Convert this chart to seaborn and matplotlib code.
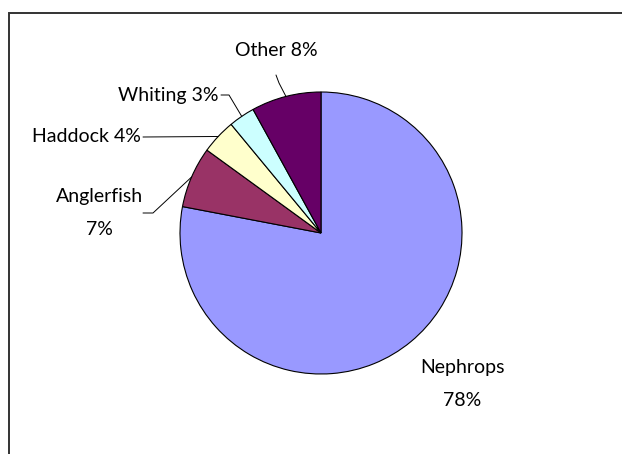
import numpy as np
import matplotlib
matplotlib.use("Agg")
import matplotlib.pyplot as plt
import matplotlib.patches as mpatches
import seaborn as sns

# data
species = ["Nephrops", "Anglerfish", "Haddock", "Whiting", "Other"]
shares = [78, 7, 4, 3, 8]
colours = ["#9999FF", "#993366", "#FFFFCC", "#CCFFFF", "#660066"]

sns.set_theme(style="white")
plt.rcParams["font.family"] = ["Lato", "DejaVu Sans"]

W, H = 622, 454
fig = plt.figure(figsize=(W / 100, H / 100), dpi=100)
ax = fig.add_axes([0, 0, 1, 1])
ax.set_xlim(0, W)
ax.set_ylim(0, H)
ax.set_aspect("equal")
ax.axis("off")

# pie centre / radius in pixels (y from bottom)
cx, cy, r = 321, H - 233, 141
wedges, _ = ax.pie(shares, colors=sns.color_palette(colours), startangle=90,
                   counterclock=False, center=(cx, cy), radius=r,
                   wedgeprops=dict(edgecolor="black", linewidth=0.8))
ax.set_xlim(0, W)
ax.set_ylim(0, H)

# chart area border (Excel style, cut off right and bottom)
ax.add_patch(mpatches.Rectangle((9, -20), W + 20, H - 13 + 20, fill=False,
                                edgecolor="#333333", linewidth=1.4, clip_on=False))


def edge_point(w):
    a = np.deg2rad((w.theta1 + w.theta2) / 2)
    return cx + r * np.cos(a), cy + r * np.sin(a)


def py(y):
    return H - y


fs = 14
# label text positions (x, y from top) and leader elbow points
labels = {
    "Other": dict(xy=(276, 50), ha="center", path=[(276, 75), (279, 83)]),
    "Whiting": dict(xy=(219, 95), ha="right", path=[(221, 95), (229, 95)]),
    "Haddock": dict(xy=(141, 137), ha="right", path=[(143, 137)]),
}
for name, w, s in zip(species, wedges, shares):
    if name in labels:
        info = labels[name]
        ax.text(info["xy"][0], py(info["xy"][1]), f"{name} {s}%", ha=info["ha"],
                va="center", fontsize=fs, color="black")
        ex, ey = edge_point(w)
        pts = [(x, py(y)) for x, y in info["path"]] + [(ex, ey)]
        ax.plot([p[0] for p in pts], [p[1] for p in pts], color="black", lw=0.7)

# Anglerfish
w = wedges[species.index("Anglerfish")]
ax.text(99, py(213), f"Anglerfish\n\n{shares[1]}%", ha="center", va="center",
        fontsize=fs, linespacing=0.97, color="black")
ex, ey = edge_point(w)
ax.plot([143, 153, ex], [py(213), py(213), ey], color="black", lw=0.7)

# Nephrops
ax.text(462, py(384), f"Nephrops\n\n{shares[0]}%", ha="center", va="center",
        fontsize=fs, linespacing=0.95, color="black")

fig.savefig("out.png", dpi=100)
